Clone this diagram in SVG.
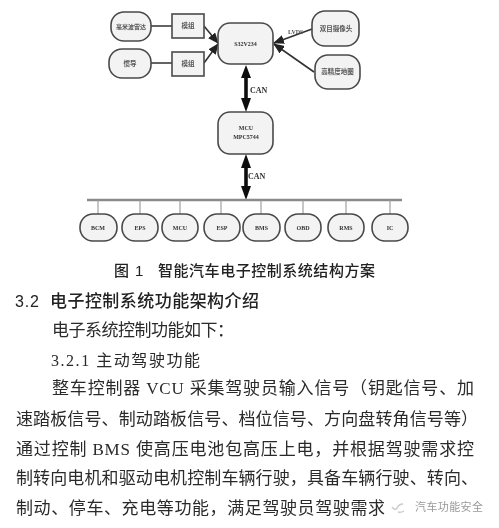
<svg xmlns="http://www.w3.org/2000/svg" width="499" height="528" viewBox="0 0 499 528">
<style>
.b{fill:#f3f3f3;stroke:#4a4a4a;stroke-width:1.600}
.l{font:bold 6px "Liberation Serif","Noto Sans CJK SC",serif;fill:#333;text-anchor:middle}
.z{font:bold 6.500px "Noto Sans CJK SC",sans-serif;fill:#555;text-anchor:middle}
.c{stroke:#333;stroke-width:1.600;fill:none}
.s{stroke:#999;stroke-width:1.100}
.t{font-family:"Liberation Serif","Noto Sans CJK SC",serif;font-size:17px;fill:#2a2a2a}
.h{font-family:"Liberation Sans","Noto Sans CJK SC",sans-serif;font-weight:bold;fill:#222}
.can{font:bold 8px "Liberation Serif",serif;fill:#333}
</style>
<defs>
<marker id="a" markerWidth="11" markerHeight="9" refX="10" refY="4.500" orient="auto" markerUnits="userSpaceOnUse"><path d="M0 0L11 4.500L0 9z" fill="#222"/></marker>
<filter id="f" x="-5%" y="-5%" width="110%" height="110%"><feGaussianBlur stdDeviation="0.4"/></filter>
</defs>
<rect width="499" height="528" fill="#fff"/>
<g filter="url(#f)">
<g id="connectors">
<path class="c" d="M151 26H172M151 63H172"/>
<path class="c" d="M204 26L218 43" marker-end="url(#a)"/>
<path class="c" d="M204 63L218 44" marker-end="url(#a)"/>
<path class="c" d="M312 29L274 43" marker-end="url(#a)"/>
<path class="c" d="M314 72L274 44" marker-end="url(#a)"/>
<path d="M246 65l-5 13h3.200v20h-3.200l5 14l5-14h-3.200v-20h3.200z" fill="#111"/>
<path d="M246 154l-5 14h3.200v18h-3.200l5 14l5-14h-3.200v-18h3.200z" fill="#111"/>
<path stroke="#8a8a8a" stroke-width="2.400" d="M87 200H402"/>
<path class="s" d="M98 200V214M140 200V214M180 200V214M221 200V214M261 200V214M303 200V214M346 200V214M390 200V214"/>
<text x="250" y="93" class="can">CAN</text>
<text x="248" y="179" class="can">CAN</text>
<text x="288" y="34" style="font:bold 6px 'Liberation Serif',serif;fill:#555">LVDS</text>
</g>
<g id="n1"><rect class="b" x="111" y="12" width="40" height="29" rx="13"/><text class="z" x="131" y="28.500" style="font-size:6px">毫米波雷达</text></g>
<g id="n2"><rect class="b" x="172" y="14" width="32" height="24"/><text class="z" x="188" y="28">模组</text></g>
<g id="n3"><rect class="b" x="109" y="49" width="42" height="29" rx="13"/><text class="z" x="130" y="66">惯导</text></g>
<g id="n4"><rect class="b" x="172" y="52" width="32" height="24"/><text class="z" x="188" y="66">模组</text></g>
<g id="n5"><rect class="b" x="218" y="23" width="55" height="41" rx="12"/><text class="l" x="245.500" y="46">S32V234</text></g>
<g id="n6"><rect class="b" x="312" y="11" width="47" height="35" rx="13"/><text class="z" x="336" y="31">双目摄像头</text></g>
<g id="n7"><rect class="b" x="315" y="55" width="45" height="34" rx="13"/><text class="z" x="337.500" y="74">高精度地图</text></g>
<g id="n8"><rect class="b" x="218" y="112" width="55" height="42" rx="12"/><text class="l" x="246" y="130">MCU</text><text class="l" x="246" y="139">MPC5744</text></g>
<g id="n9"><rect class="b" x="80" y="214" width="37" height="27" rx="13"/><text class="l" x="98" y="229.500">BCM</text></g>
<g id="n10"><rect class="b" x="122" y="214" width="36" height="27" rx="13"/><text class="l" x="140" y="229.500">EPS</text></g>
<g id="n11"><rect class="b" x="162" y="214" width="36" height="27" rx="13"/><text class="l" x="180" y="229.500">MCU</text></g>
<g id="n12"><rect class="b" x="204" y="214" width="36" height="27" rx="13"/><text class="l" x="222" y="229.500">ESP</text></g>
<g id="n13"><rect class="b" x="243" y="214" width="37" height="27" rx="13"/><text class="l" x="261.500" y="229.500">BMS</text></g>
<g id="n14"><rect class="b" x="285" y="214" width="36" height="27" rx="13"/><text class="l" x="303" y="229.500">OBD</text></g>
<g id="n15"><rect class="b" x="328" y="214" width="36" height="27" rx="13"/><text class="l" x="346" y="229.500">RMS</text></g>
<g id="n16"><rect class="b" x="372" y="214" width="36" height="27" rx="13"/><text class="l" x="390" y="229.500">IC</text></g>
</g>
<g id="text" filter="url(#f)">
<text class="h" x="114" y="275.500" style="font-size:15px;font-weight:500">图</text>
<text class="h" x="135" y="275.500" style="font-size:15px;font-weight:500">1</text>
<text class="h" x="158" y="275.500" style="font-size:15px;font-weight:500" textLength="217">智能汽车电子控制系统结构方案</text>
<text class="h" x="15" y="307" style="font-size:16px;font-weight:400" textLength="24">3.2</text>
<text class="h" x="50" y="307" style="font-size:17px;font-weight:500" textLength="209">电子控制系统功能架构介绍</text>
<text class="t" x="52" y="336" textLength="182">电子系统控制功能如下：</text>
<text class="t" x="51" y="365.500" textLength="149" style="font-size:16px">3.2.1 主动驾驶功能</text>
<text class="t" x="52" y="394" textLength="422">整车控制器 VCU 采集驾驶员输入信号（钥匙信号、加</text>
<text class="t" x="16" y="424.500" textLength="462">速踏板信号、制动踏板信号、档位信号、方向盘转角信号等）</text>
<text class="t" x="16" y="454.500" textLength="458">通过控制 BMS 使高压电池包高压上电，并根据驾驶需求控</text>
<text class="t" x="16" y="484" textLength="462">制转向电机和驱动电机控制车辆行驶，具备车辆行驶、转向、</text>
<text class="t" x="16" y="513.500" textLength="369">制动、停车、充电等功能，满足驾驶员驾驶需求</text>
<path d="M392 507q3 4 5 1q2-4 6-4M398 512q3 1 6-1" fill="none" stroke="#ccc" stroke-width="1.500"/>
<text class="h" x="415" y="511" textLength="68" style="font-size:11px;font-weight:400;fill:#999">汽车功能安全</text>
</g>
</svg>
